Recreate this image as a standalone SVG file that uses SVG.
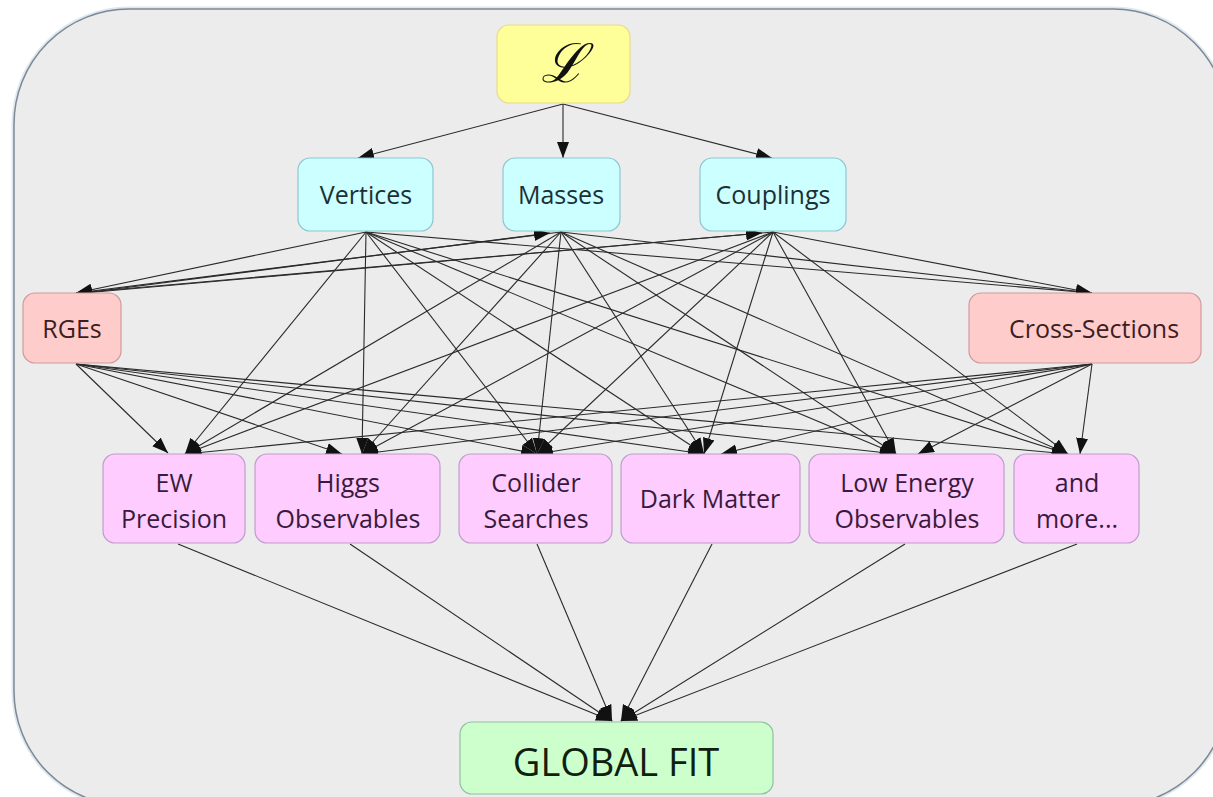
<svg xmlns="http://www.w3.org/2000/svg" width="1213" height="797" viewBox="0 0 1213 797">
<defs>
<marker id="ah" markerUnits="userSpaceOnUse" markerWidth="18" markerHeight="14" refX="16" refY="6" orient="auto">
<path d="M0,0 L16,6 L0,12 z" fill="#111"/>
</marker>
<style>
.bg{fill:#ececec;stroke:#7d8894;stroke-width:1.5}
.halo{fill:none;stroke:#dfe8f0;stroke-width:5}
.n rect{rx:12;ry:12;stroke-width:1.2}
.y rect{fill:#ffff99;stroke:#e6dc8c}
.c rect{fill:#ccffff;stroke:#8ec6d0}
.r rect{fill:#ffcccc;stroke:#d09a9a}
.m rect{fill:#ffccff;stroke:#c09ccc}
.g rect{fill:#ccffcc;stroke:#90c0a0}
.n text{font-family:"Open Sans","DejaVu Sans",sans-serif;font-size:25px;text-anchor:middle}
.c text{fill:#1c3034}
.r text{fill:#3c1e22}
.m text{fill:#3a1a3c}
.g text{fill:#10200f;font-size:38px}
.y text{font-family:"DejaVu Serif","Liberation Serif",serif;font-style:italic;font-size:54px;fill:#111}
.e line{stroke:#2a2a2a;stroke-width:1.1;marker-end:url(#ah)}
</style>
</defs>
<rect width="1213" height="797" fill="#ffffff"/>
<rect class="halo" x="14" y="9" width="1214" height="797" rx="115" ry="115"/>
<rect class="bg" x="14" y="9" width="1214" height="797" rx="115" ry="115"/>

<g id="edges" class="e">
<line x1="563" y1="104" x2="358" y2="158"/>
<line x1="563" y1="104" x2="563" y2="158"/>
<line x1="563" y1="104" x2="772" y2="158"/>

<line x1="366" y1="232" x2="76" y2="293"/>
<line x1="561" y1="232" x2="76" y2="293"/>
<line x1="773" y1="232" x2="76" y2="293"/>
<line x1="366" y1="232" x2="1092" y2="293"/>
<line x1="561" y1="232" x2="1092" y2="293"/>
<line x1="773" y1="232" x2="1092" y2="293"/>
<line x1="84" y1="293" x2="550" y2="233"/>
<line x1="84" y1="293" x2="762" y2="233"/>

<line x1="366" y1="232" x2="185" y2="454"/>
<line x1="366" y1="232" x2="362" y2="454"/>
<line x1="366" y1="232" x2="537" y2="454"/>
<line x1="366" y1="232" x2="704" y2="454"/>
<line x1="366" y1="232" x2="896" y2="454"/>
<line x1="366" y1="232" x2="1068" y2="454"/>
<line x1="561" y1="232" x2="185" y2="454"/>
<line x1="561" y1="232" x2="362" y2="454"/>
<line x1="561" y1="232" x2="537" y2="454"/>
<line x1="561" y1="232" x2="704" y2="454"/>
<line x1="561" y1="232" x2="896" y2="454"/>
<line x1="561" y1="232" x2="1068" y2="454"/>
<line x1="773" y1="232" x2="185" y2="454"/>
<line x1="773" y1="232" x2="362" y2="454"/>
<line x1="773" y1="232" x2="537" y2="454"/>
<line x1="773" y1="232" x2="704" y2="454"/>
<line x1="773" y1="232" x2="896" y2="454"/>
<line x1="773" y1="232" x2="1068" y2="454"/>

<line x1="76" y1="364" x2="168" y2="453"/>
<line x1="76" y1="364" x2="342" y2="454"/>
<line x1="76" y1="364" x2="537" y2="454"/>
<line x1="76" y1="364" x2="704" y2="454"/>
<line x1="76" y1="364" x2="896" y2="454"/>
<line x1="76" y1="364" x2="1068" y2="454"/>
<line x1="1092" y1="364" x2="185" y2="454"/>
<line x1="1092" y1="364" x2="362" y2="454"/>
<line x1="1092" y1="364" x2="537" y2="454"/>
<line x1="1092" y1="364" x2="721" y2="454"/>
<line x1="1092" y1="364" x2="918" y2="454"/>
<line x1="1092" y1="364" x2="1080" y2="454"/>

<line x1="178" y1="544" x2="612" y2="721"/>
<line x1="350" y1="544" x2="612" y2="721"/>
<line x1="537" y1="544" x2="612" y2="721"/>
<line x1="712" y1="544" x2="621" y2="721"/>
<line x1="905" y1="544" x2="621" y2="721"/>
<line x1="1077" y1="544" x2="621" y2="721"/>
</g>

<g id="lagrangian" class="n y"><rect x="497" y="25" width="133" height="78"/><text x="563" y="82">ℒ</text></g>
<g id="vertices" class="n c"><rect x="298" y="158" width="135" height="73"/><text x="366" y="204">Vertices</text></g>
<g id="masses" class="n c"><rect x="503" y="158" width="117" height="73"/><text x="561" y="204">Masses</text></g>
<g id="couplings" class="n c"><rect x="700" y="158" width="146" height="73"/><text x="773" y="204">Couplings</text></g>
<g id="rges" class="n r"><rect x="23" y="293" width="98" height="70"/><text x="72" y="338">RGEs</text></g>
<g id="cross-sections" class="n r"><rect x="969" y="293" width="232" height="70"/><text x="1094" y="338">Cross-Sections</text></g>
<g id="ew-precision" class="n m"><rect x="103" y="454" width="142" height="89"/><text x="174" y="492">EW</text><text x="174" y="528">Precision</text></g>
<g id="higgs" class="n m"><rect x="255" y="454" width="185" height="89"/><text x="348" y="492">Higgs</text><text x="348" y="528">Observables</text></g>
<g id="collider" class="n m"><rect x="459" y="454" width="153" height="89"/><text x="536" y="492">Collider</text><text x="536" y="528">Searches</text></g>
<g id="dark-matter" class="n m"><rect x="621" y="454" width="179" height="89"/><text x="710" y="508">Dark Matter</text></g>
<g id="low-energy" class="n m"><rect x="809" y="454" width="195" height="89"/><text x="907" y="492">Low Energy</text><text x="907" y="528">Observables</text></g>
<g id="more" class="n m"><rect x="1014" y="454" width="125" height="89"/><text x="1077" y="492">and</text><text x="1077" y="528">more...</text></g>
<g id="global-fit" class="n g"><rect x="460" y="722" width="313" height="72"/><text x="616" y="776">GLOBAL FIT</text></g>
</svg>
